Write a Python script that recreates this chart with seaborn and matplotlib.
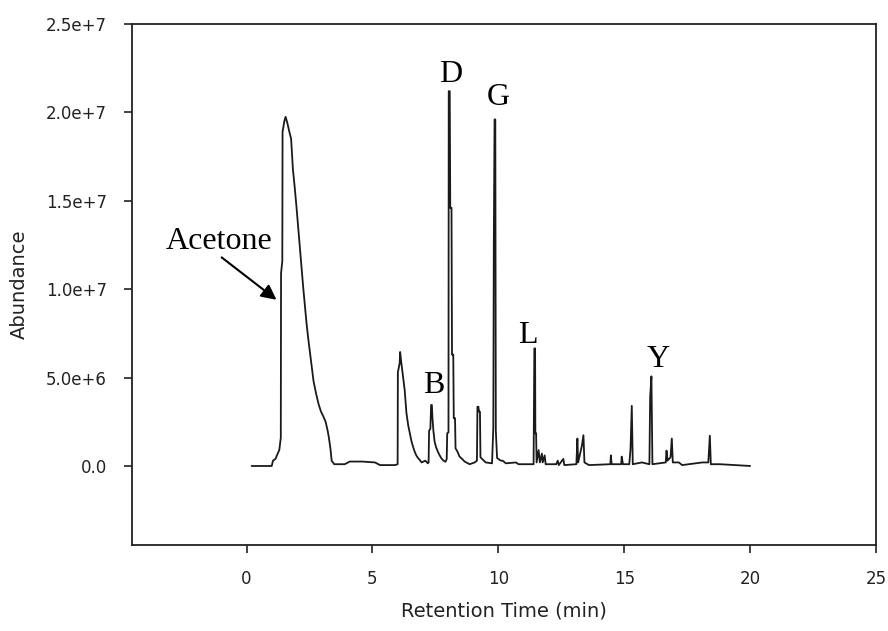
import matplotlib
matplotlib.use("Agg")
import matplotlib.pyplot as plt
import seaborn as sns
import pandas as pd

# ---- data ----
time_min = [0.2, 1.0, 1.05, 1.15, 1.22, 1.30, 1.36, 1.37, 1.42, 1.43, 1.50, 1.55, 1.62, 1.70,
            1.77, 1.84, 1.91, 1.98, 2.05, 2.11, 2.18, 2.25, 2.32, 2.38, 2.45, 2.52, 2.59, 2.66,
            2.76, 2.86, 2.95, 3.05, 3.14, 3.22, 3.27, 3.33, 3.38, 3.48, 3.9, 4.1, 4.6, 5.1, 5.3,
            5.9, 6.0, 6.01, 6.08, 6.1, 6.15, 6.22, 6.28, 6.35, 6.42, 6.48, 6.55, 6.61, 6.68,
            6.74, 6.81, 6.88, 6.95, 7.1, 7.2, 7.23, 7.25, 7.30, 7.33, 7.36, 7.38, 7.42, 7.47,
            7.53, 7.6, 7.67, 7.74, 7.82, 7.9, 7.95, 7.97, 8.02, 8.03, 8.07, 8.09, 8.14, 8.16,
            8.21, 8.23, 8.28, 8.3, 8.38, 8.46, 8.56, 8.66, 8.86, 9.06, 9.15, 9.17, 9.21, 9.23,
            9.27, 9.29, 9.35, 9.5, 9.75, 9.80, 9.82, 9.85, 9.88, 9.90, 9.95, 10.1, 10.17, 10.3,
            10.7, 10.8, 11.4, 11.43, 11.46, 11.47, 11.5, 11.52, 11.6, 11.65, 11.73, 11.76, 11.84,
            11.88, 12.3, 12.36, 12.4, 12.58, 12.62, 13.1, 13.14, 13.17, 13.32, 13.38, 13.42,
            13.6, 14.45, 14.47, 14.5, 14.88, 14.9, 14.95, 15.2, 15.25, 15.30, 15.34, 15.7, 16.0,
            16.03, 16.08, 16.12, 16.65, 16.68, 16.72, 16.84, 16.89, 16.93, 17.17, 17.3, 18.1,
            18.34, 18.4, 18.44, 18.6, 18.8, 20.0]
abundance = [0.0, 0.0, 0.3e6, 0.4e6, 0.65e6, 0.9e6, 1.6e6, 10.9e6, 11.6e6, 18.9e6, 19.5e6,
             19.75e6, 19.4e6, 18.9e6, 18.5e6, 16.8e6, 15.8e6, 14.7e6, 13.5e6, 12.4e6, 11.2e6,
             10.1e6, 9.0e6, 8.1e6, 7.2e6, 6.4e6, 5.6e6, 4.8e6, 4.1e6, 3.5e6, 3.1e6, 2.8e6,
             2.5e6, 2.0e6, 1.6e6, 1.0e6, 0.3e6, 0.1e6, 0.1e6, 0.25e6, 0.25e6, 0.2e6, 0.05e6,
             0.05e6, 0.1e6, 5.3e6, 5.8e6, 6.45e6, 5.8e6, 5.0e6, 4.3e6, 3.0e6, 2.3e6, 1.87e6,
             1.4e6, 1.1e6, 0.8e6, 0.6e6, 0.45e6, 0.34e6, 0.2e6, 0.3e6, 0.15e6, 0.2e6, 2.0e6,
             2.1e6, 3.45e6, 3.45e6, 2.8e6, 2.0e6, 1.37e6, 1.05e6, 0.8e6, 0.6e6, 0.43e6, 0.3e6,
             0.24e6, 0.4e6, 1.85e6, 1.9e6, 21.2e6, 21.2e6, 14.6e6, 14.6e6, 6.3e6, 6.3e6, 2.7e6,
             2.7e6, 1.0e6, 0.8e6, 0.53e6, 0.4e6, 0.25e6, 0.1e6, 0.2e6, 0.3e6, 3.35e6, 3.35e6,
             3.07e6, 3.07e6, 0.5e6, 0.4e6, 0.2e6, 0.15e6, 2.15e6, 12.5e6, 19.6e6, 19.6e6, 2.0e6,
             0.45e6, 0.3e6, 0.3e6, 0.15e6, 0.2e6, 0.1e6, 0.1e6, 6.65e6, 6.65e6, 1.85e6, 1.85e6,
             0.2e6, 0.9e6, 0.2e6, 0.7e6, 0.2e6, 0.6e6, 0.1e6, 0.1e6, 0.3e6, 0.05e6, 0.4e6,
             0.05e6, 0.1e6, 1.55e6, 0.2e6, 1.15e6, 1.74e6, 0.2e6, 0.05e6, 0.1e6, 0.6e6, 0.1e6,
             0.1e6, 0.53e6, 0.1e6, 0.1e6, 0.96e6, 3.4e6, 0.1e6, 0.2e6, 0.1e6, 3.9e6, 5.07e6,
             0.1e6, 0.2e6, 0.87e6, 0.3e6, 0.5e6, 1.55e6, 0.2e6, 0.2e6, 0.05e6, 0.2e6, 0.2e6,
             1.71e6, 0.1e6, 0.1e6, 0.1e6, 0.0]

peak_labels = ["B", "D", "G", "L", "Y"]
peak_label_t = [7.43, 8.11, 9.98, 11.17, 16.34]
peak_label_a = [4.13e6, 21.72e6, 20.42e6, 6.96e6, 5.6e6]

x_ticks = [0, 5, 10, 15, 20, 25]
x_tick_labels = ["0", "5", "10", "15", "20", "25"]
y_ticks = [0, 5e6, 10e6, 15e6, 20e6, 25e6]
y_tick_labels = ["0.0", "5.0e+6", "1.0e+7", "1.5e+7", "2.0e+7", "2.5e+7"]

df = pd.DataFrame({"Retention Time (min)": time_min, "Abundance": abundance})

sns.set_style("white")
plt.rcParams["font.family"] = ["DejaVu Sans"]

fig = plt.figure(figsize=(8.88, 6.31), dpi=100)
ax = fig.add_axes([132 / 888, 1 - 545 / 631, (876 - 132) / 888, (545 - 24) / 631])

sns.lineplot(data=df, x="Retention Time (min)", y="Abundance", sort=False,
             color="#1a1a1a", linewidth=1.3, ax=ax, estimator=None)

ax.set_xlim(-4.55, 25)
ax.set_ylim(-4.47e6, 25e6)
ax.set_xticks(x_ticks)
ax.set_xticklabels(x_tick_labels)
ax.set_yticks(y_ticks)
ax.set_yticklabels(y_tick_labels)

for s in ax.spines.values():
    s.set_visible(True)
    s.set_color("#222222")
    s.set_linewidth(1.3)

ax.tick_params(axis="both", direction="out", length=6, width=1.2, color="#222222",
               labelsize=12, labelcolor="#222222", left=True, bottom=True)
ax.tick_params(axis="x", pad=12)
ax.tick_params(axis="y", pad=12)

ax.set_xlabel("Retention Time (min)", fontsize=14, color="#222222", labelpad=10)
ax.set_ylabel("Abundance", fontsize=14, color="#222222", labelpad=12)

serif = ["Liberation Serif", "DejaVu Serif"]
for lab, t, a in zip(peak_labels, peak_label_t, peak_label_a):
    ax.text(t, a, lab, ha="center", va="baseline", fontsize=23, family=serif, color="black")

ax.text(-1.07, 12.3e6, "Acetone", ha="center", va="baseline", fontsize=23, family=serif,
        color="black")
ax.annotate("", xy=(1.19, 9.4e6), xytext=(-0.99, 11.8e6),
            arrowprops=dict(arrowstyle="-|>,head_length=0.9,head_width=0.45",
                            color="black", lw=1.5, shrinkA=0, shrinkB=0))

fig.savefig("out.png", dpi=100)
